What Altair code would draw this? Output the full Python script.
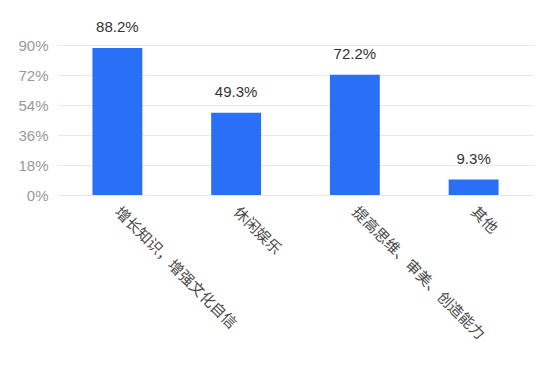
import altair as alt
import pandas as pd

categories = ["增长知识，增强文化自信", "休闲娱乐", "提高思维、审美、创造能力", "其他"]
values = [88.2, 49.3, 72.2, 9.3]
y_ticks = [0, 18, 36, 54, 72, 90]

df = pd.DataFrame({"cat": categories, "val": values})
df["label"] = [f"{v:.1f}%" for v in values]

FONT = "Liberation Sans, Noto Sans CJK SC, sans-serif"

x = alt.X("cat:N", sort=categories, title=None,
          scale=alt.Scale(paddingInner=0.58, paddingOuter=0.29),
          axis=alt.Axis(labelAngle=45, labelAlign="left", labelBaseline="middle",
                        labelPadding=14, ticks=False, domain=False,
                        labelColor="#4a4a4a", labelFontSize=15, labelFont=FONT,
                        labelLimit=400, labelOverlap=False, grid=False))
y = alt.Y("val:Q", title=None,
          scale=alt.Scale(domain=[0, 90], nice=False),
          axis=alt.Axis(values=y_ticks, labelExpr="datum.value + '%'",
                        ticks=False, domain=False, labelPadding=10,
                        labelOverlap=False,
                        labelColor="#999999", labelFontSize=15, labelFont=FONT,
                        gridColor="#e8e8e8", gridWidth=1))

base = alt.Chart(df).encode(x=x, y=y)
bars = base.mark_bar(color="#2970f6")
text = base.mark_text(dy=-13, baseline="bottom", fontSize=15,
                      color="#333333", font=FONT).encode(text="label:N")

chart = alt.layer(bars, text).properties(
    width=475, height=150,
    autosize=alt.AutoSizeParams(type="none"),
    padding={"left": 58, "top": 45, "right": 17, "bottom": 182},
).configure_view(stroke=None)

chart.save("out.html", embed_options={"renderer": "svg", "actions": False})
